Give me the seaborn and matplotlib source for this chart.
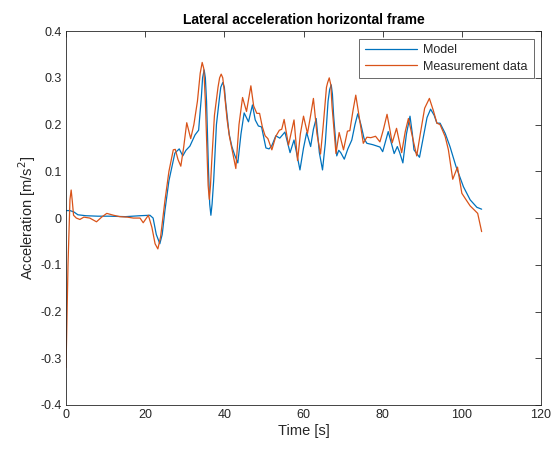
import numpy as np
import pandas as pd
import matplotlib
matplotlib.use("Agg")
import matplotlib.pyplot as plt
from matplotlib.ticker import FuncFormatter
import seaborn as sns

sns.set_style("white")
plt.rcParams['font.family'] = ['Liberation Sans', 'DejaVu Sans']
plt.rcParams['axes.unicode_minus'] = False

# values
model_t = [0, 1, 2, 3, 5, 8, 11, 15, 18.7, 21.2, 22, 22.8, 23.7, 24.3, 25, 26, 27.5,
           28.6, 29.5, 30.3, 31.3, 32.6, 33.5, 34.2, 34.5, 34.9, 35.2, 35.5, 36, 36.3,
           36.6, 36.9, 37.3, 38, 38.8, 39.1, 39.6, 40.0, 40.3, 41.2, 41.9, 42.6, 43.4,
           44.2, 45, 46.1, 47.1, 47.8, 48.6, 49.4, 50.5, 51.3, 52, 53, 54, 55.3, 56.6,
           57.6, 59.1, 60, 60.8, 61.8, 62.5, 63.2, 64, 64.8, 65.5, 66.2, 66.6, 67,
           67.3, 67.6, 68.4, 68.9, 69.4, 70.3, 71.2, 72.2, 73, 73.7, 74.5, 75.3, 76,
           77.5, 79.3, 80, 81.4, 82.2, 82.9, 83.7, 84.3, 85.1, 86, 86.9, 87.5, 87.9,
           89.3, 90.2, 91.2, 92.1, 93, 93.7, 94.5, 95.8, 97, 98.5, 100.4, 102.1, 103.8,
           105]
model_v = [0.016, 0.016, 0.013, 0.007, 0.005, 0.004, 0.004, 0.003, 0.005, 0.006, 0.0,
           -0.035, -0.055, -0.035, 0.017, 0.08, 0.139, 0.148, 0.133, 0.145, 0.154,
           0.178, 0.188, 0.26, 0.3, 0.317, 0.3, 0.25, 0.1, 0.03, 0.006, 0.03, 0.08,
           0.2, 0.26, 0.28, 0.29, 0.28, 0.25, 0.18, 0.153, 0.135, 0.118, 0.18, 0.225,
           0.206, 0.242, 0.21, 0.197, 0.195, 0.15, 0.148, 0.155, 0.176, 0.171, 0.184,
           0.14, 0.167, 0.103, 0.15, 0.183, 0.153, 0.19, 0.213, 0.14, 0.103, 0.16,
           0.25, 0.275, 0.285, 0.265, 0.22, 0.133, 0.145, 0.14, 0.126, 0.148, 0.167,
           0.2, 0.223, 0.2, 0.17, 0.16, 0.157, 0.152, 0.142, 0.185, 0.16, 0.138,
           0.153, 0.14, 0.118, 0.18, 0.218, 0.18, 0.146, 0.13, 0.17, 0.215, 0.233,
           0.22, 0.203, 0.203, 0.181, 0.153, 0.111, 0.067, 0.039, 0.023, 0.019]

meas_t = [0, 0.5, 1.0, 1.3, 1.6, 1.9, 2.6, 3.5, 4.5, 6, 7.7, 9, 10.3, 12, 13.6, 15.5,
          17, 18.7, 19.5, 20.8, 21.7, 22.5, 23.2, 23.9, 25, 26, 27.1, 27.6, 28.3, 29,
          29.7, 30.5, 31.5, 32.3, 33.2, 33.9, 34.4, 34.8, 35.2, 35.7, 35.9, 36.2,
          36.5, 36.8, 37.5, 38.4, 38.8, 39.2, 39.6, 40, 40.7, 41.3, 42.1, 42.9, 43.7,
          44.6, 45.6, 46.7, 47.4, 48.2, 48.9, 49.6, 50.3, 51, 52, 53, 53.9, 54.5,
          55.1, 56.2, 57.6, 58.5, 59.2, 60, 61, 61.8, 62.5, 63.4, 64.3, 65, 65.8,
          66.1, 66.5, 66.9, 67.2, 68.2, 69, 70.1, 71.1, 71.7, 72.5, 73.2, 74, 75.1,
          76, 77, 78.2, 79.3, 80.2, 81.1, 81.8, 82.4, 83.5, 84.8, 85.7, 86.5, 87.1,
          87.8, 88.6, 89.5, 90.6, 91.8, 92.8, 93.7, 94.5, 95.8, 96.6, 97.7, 98.9,
          100, 101, 102.1, 103.3, 104, 105]
meas_v = [-0.32, -0.1, 0.04, 0.06, 0.035, 0.006, 0.0, -0.003, 0.002, 0.0, -0.008,
          0.002, 0.01, 0.006, 0.003, 0.002, 0.0, 0.0, -0.01, 0.006, -0.02, -0.055,
          -0.066, -0.04, 0.038, 0.1, 0.146, 0.147, 0.125, 0.111, 0.15, 0.204, 0.17,
          0.2, 0.25, 0.31, 0.333, 0.32, 0.25, 0.12, 0.07, 0.04, 0.07, 0.12, 0.22,
          0.28, 0.3, 0.308, 0.3, 0.27, 0.21, 0.174, 0.14, 0.106, 0.2, 0.258, 0.228,
          0.283, 0.24, 0.224, 0.224, 0.195, 0.176, 0.17, 0.146, 0.175, 0.188, 0.19,
          0.211, 0.156, 0.21, 0.123, 0.18, 0.218, 0.181, 0.22, 0.256, 0.18, 0.137,
          0.2, 0.28, 0.29, 0.3, 0.285, 0.24, 0.138, 0.183, 0.146, 0.186, 0.187,
          0.23, 0.263, 0.22, 0.16, 0.173, 0.172, 0.175, 0.163, 0.19, 0.222, 0.19,
          0.161, 0.192, 0.14, 0.185, 0.213, 0.19, 0.163, 0.133, 0.18, 0.235, 0.256,
          0.23, 0.203, 0.2, 0.174, 0.146, 0.083, 0.109, 0.053, 0.04, 0.026, 0.016,
          0.01, -0.029]

x_ticks = [0, 20, 40, 60, 80, 100, 120]
y_ticks = [-0.4, -0.3, -0.2, -0.1, 0, 0.1, 0.2, 0.3, 0.4]

df = pd.concat([
    pd.DataFrame({'t': model_t, 'a': model_v, 'src': 'Model'}),
    pd.DataFrame({'t': meas_t, 'a': meas_v, 'src': 'Measurement data'}),
])

fig = plt.figure(figsize=(5.52, 4.51), dpi=100)
ax = fig.add_axes([0.1196, 0.102, 0.8605, 0.829])

sns.lineplot(data=df, x='t', y='a', hue='src', estimator=None, sort=False,
             palette=['#0072BD', '#D95319'], linewidth=0.9, ax=ax)

ax.set_xlim(0, 120)
ax.set_ylim(-0.4, 0.4)
ax.set_xticks(x_ticks)
ax.set_yticks(y_ticks)
ax.yaxis.set_major_formatter(FuncFormatter(lambda v, p: '0' if abs(v) < 1e-9 else ('%g' % v)))
ax.tick_params(direction='in', length=4, width=0.6, labelsize=9, colors='#262626',
               top=True, right=True, pad=3)
for s in ax.spines.values():
    s.set_linewidth(0.6)
    s.set_color('#262626')

ax.set_xlabel('Time [s]', fontsize=10.5, color='#262626', labelpad=2)
ax.set_ylabel('Acceleration [m/s$^2$]', fontsize=10.5, color='#262626', labelpad=2)
ax.set_title('Lateral acceleration horizontal frame', fontsize=10, fontweight='bold',
             color='black', pad=5)

leg = ax.legend(loc='upper right', fontsize=9, frameon=True, fancybox=False,
                edgecolor='#262626', handlelength=4.2, borderpad=0.45, labelspacing=0.35,
                handletextpad=0.5, borderaxespad=0.6)
leg.get_frame().set_linewidth(0.6)
leg.set_title(None)

fig.savefig('out.png', dpi=100, facecolor='white')
